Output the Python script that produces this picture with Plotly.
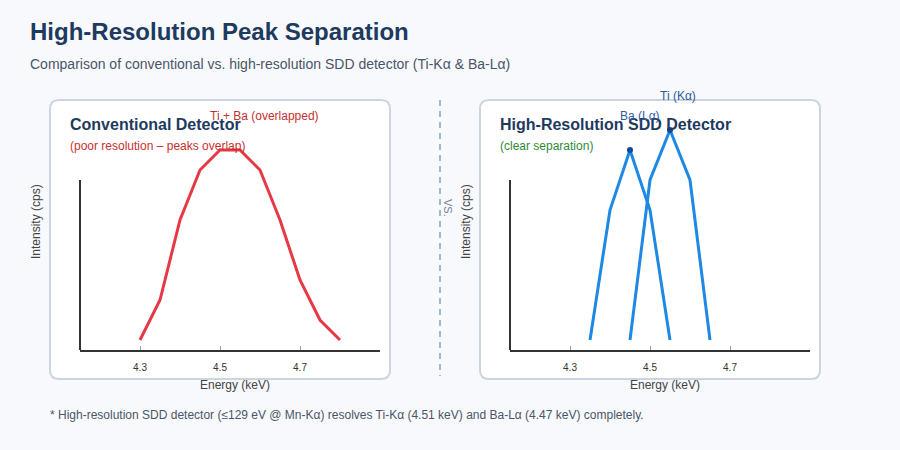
import plotly.graph_objects as go

# ---------------- data ----------------
energy_conv = [4.30, 4.35, 4.40, 4.45, 4.50, 4.55, 4.60, 4.65, 4.70, 4.75, 4.80]
intensity_conv = [50, 250, 650, 900, 1000, 1000, 900, 650, 350, 150, 50]

energy_ba = [4.35, 4.40, 4.45, 4.50, 4.55]
intensity_ba = [50, 700, 1000, 700, 50]

energy_ti = [4.45, 4.50, 4.55, 4.60, 4.65]
intensity_ti = [50, 850, 1100, 850, 50]

tick_vals = [4.3, 4.5, 4.7]
tick_text = ["4.3", "4.5", "4.7"]
x_range = [4.15, 4.9]
y_range = [0, 1250]
y_axis_max = 850

W, H = 900, 450
FONT = "Liberation Sans, Arial, Helvetica, sans-serif"

def px(x):
    return x / W

def py(y):
    return 1 - y / H

def rounded_rect(x0, y0, x1, y1, r):
    rx, ry = r / W, r / H
    X0, X1 = px(x0), px(x1)
    Y0, Y1 = py(y0), py(y1)  # Y0 top, Y1 bottom
    return (f"M {X0+rx},{Y0} L {X1-rx},{Y0} Q {X1},{Y0} {X1},{Y0-ry} "
            f"L {X1},{Y1+ry} Q {X1},{Y1} {X1-rx},{Y1} L {X0+rx},{Y1} "
            f"Q {X0},{Y1} {X0},{Y1+ry} L {X0},{Y0-ry} Q {X0},{Y0} {X0+rx},{Y0} Z")

fig = go.Figure()

RED = "#e53945"
BLUE = "#1e88e5"
NAVY = "#1e3a5f"

fig.add_trace(go.Scatter(x=energy_conv, y=intensity_conv, mode="lines",
                         line=dict(color=RED, width=3), xaxis="x", yaxis="y",
                         hoverinfo="skip", showlegend=False))
fig.add_trace(go.Scatter(x=energy_ba, y=intensity_ba, mode="lines",
                         line=dict(color=BLUE, width=3), xaxis="x2", yaxis="y2",
                         hoverinfo="skip", showlegend=False))
fig.add_trace(go.Scatter(x=energy_ti, y=intensity_ti, mode="lines",
                         line=dict(color=BLUE, width=3), xaxis="x2", yaxis="y2",
                         hoverinfo="skip", showlegend=False))

def peak(xs, ys):
    i = max(range(len(ys)), key=lambda k: ys[k])
    return xs[i], ys[i]

ba_px, ba_py = peak(energy_ba, intensity_ba)
ti_px, ti_py = peak(energy_ti, intensity_ti)
cv_px, cv_py = peak(energy_conv, intensity_conv)

fig.add_trace(go.Scatter(x=[ba_px, ti_px], y=[ba_py, ti_py], mode="markers",
                         marker=dict(color="#0d47a1", size=6), xaxis="x2", yaxis="y2",
                         hoverinfo="skip", showlegend=False, cliponaxis=False))

ydom = [py(350), py(100)]
axis_common = dict(range=x_range, tickvals=tick_vals, ticktext=tick_text,
                   showline=True, linecolor="#333333", linewidth=2,
                   ticks="inside", ticklen=4, tickcolor="#999999", tickwidth=1,
                   showgrid=False, zeroline=False, ticklabelstandoff=7,
                   tickfont=dict(family=FONT, size=10, color="#333333"),
                   fixedrange=True)
yaxis_common = dict(range=y_range, domain=ydom, showline=False, showgrid=False,
                    zeroline=False, showticklabels=False, ticks="", fixedrange=True)

fig.update_layout(
    width=W, height=H,
    margin=dict(l=0, r=0, t=0, b=0),
    paper_bgcolor="#f7f9fc", plot_bgcolor="rgba(0,0,0,0)",
    font=dict(family=FONT),
    xaxis=dict(domain=[px(80), px(380)], anchor="y", **axis_common),
    yaxis=dict(anchor="x", **yaxis_common),
    xaxis2=dict(domain=[px(510), px(810)], anchor="y2", **axis_common),
    yaxis2=dict(anchor="x2", **yaxis_common),
    hovermode=False,
)

shapes = []
for (x0, x1) in [(50, 390), (480, 820)]:
    shapes.append(dict(type="path", xref="paper", yref="paper",
                       path=rounded_rect(x0, 100, x1, 379, 9),
                       fillcolor="#ffffff", line=dict(color="#cbd5e0", width=2),
                       layer="below"))
# y-axis lines
for xr, yr in [("x domain", "y"), ("x2 domain", "y2")]:
    shapes.append(dict(type="line", xref=xr, yref=yr, x0=0, x1=0, y0=0, y1=y_axis_max,
                       line=dict(color="#333333", width=2), layer="above"))
# divider
shapes.append(dict(type="line", xref="paper", yref="paper", x0=px(440), x1=px(440),
                   y0=py(100), y1=py(376), line=dict(color="#a3b8cc", width=2, dash="6px,5px")))
fig.update_layout(shapes=shapes)

ann = []
def text(x, y, s, size, color, bold=False, xanchor="left", angle=0):
    ann.append(dict(xref="paper", yref="paper", x=px(x), y=py(y), text=(f"<b>{s}</b>" if bold else s),
                    showarrow=False, xanchor=xanchor, yanchor="middle", textangle=angle,
                    font=dict(family=FONT, size=size, color=color)))

text(28, 31, "High-Resolution Peak Separation", 24, NAVY, bold=True)
text(28, 64, "Comparison of conventional vs. high-resolution SDD detector (Ti-Kα &amp; Ba-Lα)", 14, "#4a5568")
text(68, 124, "Conventional Detector", 16, NAVY, bold=True)
text(68, 146, "(poor resolution – peaks overlap)", 12, "#c53030")
text(498, 124, "High-Resolution SDD Detector", 16, NAVY, bold=True)
text(498, 146, "(clear separation)", 12, "#2f8a3a")
text(36, 222, "Intensity (cps)", 12, "#444444", xanchor="center", angle=-90)
text(466, 222, "Intensity (cps)", 12, "#444444", xanchor="center", angle=-90)
text(235, 385, "Energy (keV)", 12, "#444444", xanchor="center")
text(665, 385, "Energy (keV)", 12, "#444444", xanchor="center")
text(448, 208, "VS.", 11, "#718096", xanchor="center", angle=90)
text(48, 415, "* High-resolution SDD detector (≤129 eV @ Mn-Kα) resolves Ti-Kα (4.51 keV) and Ba-Lα (4.47 keV) completely.", 12, "#4a5568")

# peak labels
def peak_label(xa, ya, x, y, s, color):
    ann.append(dict(xref=xa, yref=ya, x=x, y=y, text=s, showarrow=False,
                    xanchor="left", yanchor="middle", xshift=-12, yshift=34,
                    font=dict(family=FONT, size=12, color=color)))

peak_label("x", "y", cv_px, cv_py, "Ti + Ba (overlapped)", "#c53030")
peak_label("x2", "y2", ba_px, ba_py, "Ba (Lα)", "#2c5aa0")
peak_label("x2", "y2", ti_px, ti_py, "Ti (Kα)", "#2c5aa0")

fig.update_layout(annotations=ann)

fig.write_html("out.html", config={"displayModeBar": False})
